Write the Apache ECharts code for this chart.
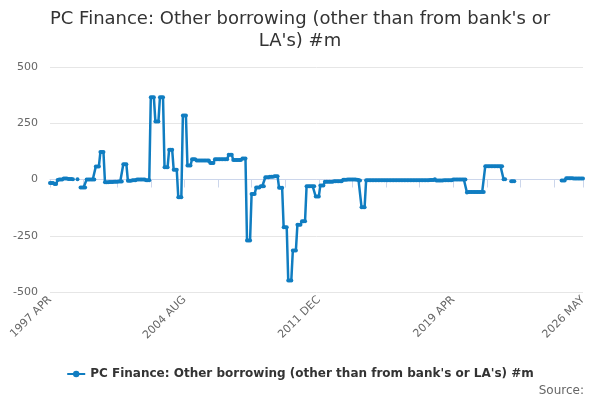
<!DOCTYPE html>
<html>
<head>
<meta charset="utf-8">
<script src="https://cdn.jsdelivr.net/npm/echarts@6/dist/echarts.min.js"></script>
<style>html,body{margin:0;padding:0;background:#fff;}#c{width:600px;height:400px;}</style>
</head>
<body>
<div id="c"></div>
<script>
var titleText = "PC Finance: Other borrowing (other than from bank's or\nLA's) #m";
var seriesName = "PC Finance: Other borrowing (other than from bank's or LA's) #m";
var sourceText = "Source:";
var monthNames = ['JAN','FEB','MAR','APR','MAY','JUN','JUL','AUG','SEP','OCT','NOV','DEC'];
var startYear = 1997, startMonth = 3, monthCount = 350;
var categories = [];
for (var i = 0; i < monthCount; i++) {
  var m = startMonth + i;
  categories.push((startYear + Math.floor(m / 12)) + ' ' + monthNames[m % 12]);
}
var yTicks = [-500, -250, 0, 250, 500];
var values = [
  -15,-15,-15,-20,-20,-2,0,0,0,4,4,4,
  2,2,2,1,null,null,1,null,-35,-35,-35,-35,
  0,0,0,0,0,0,58,58,58,122,122,122,
  -12,-12,-12,-11,-11,-11,-10,-10,-10,-9,-9,-9,
  68,68,68,-5,-5,-5,-3,-3,-3,0,0,0,
  0,0,0,-3,-3,-3,366,366,366,258,258,258,
  366,366,366,55,55,55,132,132,132,43,43,43,
  -79,-79,-79,284,284,284,62,62,62,90,90,90,
  84,84,84,84,84,84,84,84,84,73,73,73,
  90,90,90,90,90,90,90,90,90,110,110,110,
  87,87,87,87,87,87,93,93,93,-271,-271,-271,
  -64,-64,-64,-36,-36,-36,-30,-30,-30,10,10,10,
  12,12,12,15,15,15,-37,-37,-37,-212,-212,-212,
  -449,-449,-449,-316,-316,-316,-201,-201,-201,-185,-185,-185,
  -30,-30,-30,-30,-30,-30,-76,-76,-76,-27,-27,-27,
  -10,-10,-10,-10,-10,-10,-8,-8,-8,-8,-8,-8,
  -1,-1,-1,0,0,0,0,0,0,-1,-2,-4,
  -123,-123,-123,-3,-3,-3,-3,-3,-3,-3,-3,-3,
  -3,-3,-3,-3,-3,-3,-3,-3,-3,-3,-3,-3,
  -3,-3,-3,-3,-3,-3,-3,-3,-3,-3,-3,-3,
  -3,-3,-3,-3,-3,-3,-3,-3,-3,-2,-2,-2,
  1,-4,-4,-4,-4,-4,-3,-3,-3,-3,-3,-3,
  0,0,0,0,0,0,0,0,0,-58,-56,-56,
  -56,-56,-56,-56,-56,-56,-55,-55,-55,59,59,59,
  59,59,59,59,59,59,59,59,59,1,1,null,
  null,null,-8,-8,-8,null,null,null,null,null,null,null,
  null,null,null,null,null,null,null,null,null,null,null,null,
  null,null,null,null,null,null,null,null,null,null,null,-4,
  -4,-4,6,6,6,6,6,5,5,5,5,5,
  5,5
];
var lastIdx = categories.length - 1;
var chart = echarts.init(document.getElementById('c'), null, {renderer: 'canvas'});
chart.setOption({
  animation: false,
  backgroundColor: '#ffffff',
  title: [{
    text: titleText,
    left: 'center',
    top: 3,
    textStyle: {fontFamily: 'DejaVu Sans', fontSize: 18, fontWeight: 'normal', color: '#333333', lineHeight: 22}
  }, {
    text: sourceText,
    right: 11,
    bottom: -2,
    textStyle: {fontFamily: 'DejaVu Sans', fontSize: 12, fontWeight: 'normal', color: '#666666'}
  }],
  legend: {
    top: 363,
    left: 'center',
    itemWidth: 18,
    itemHeight: 8,
    textStyle: {fontFamily: 'DejaVu Sans', fontSize: 12, fontWeight: 'bold', color: '#333333'},
    data: [seriesName]
  },
  grid: {left: 50, right: 17, top: 67, bottom: 108},
  xAxis: {
    type: 'category',
    data: categories,
    boundaryGap: false,
    axisLine: {lineStyle: {color: '#ccd6eb'}},
    axisTick: {
      length: 8,
      lineStyle: {color: '#ccd6eb'},
      interval: function (i) { return i % 22 === 0 || i === lastIdx; }
    },
    axisLabel: {
      rotate: 45,
      margin: 6,
      fontFamily: 'DejaVu Sans',
      fontSize: 11,
      color: '#666666',
      interval: function (i) { return i % 88 === 0 || i === lastIdx; }
    },
    splitLine: {show: false}
  },
  yAxis: {
    type: 'value',
    min: yTicks[0],
    max: yTicks[yTicks.length - 1],
    interval: 250,
    axisLine: {show: false},
    axisTick: {show: false},
    axisLabel: {fontFamily: 'DejaVu Sans', fontSize: 11, color: '#666666', margin: 12},
    splitLine: {lineStyle: {color: '#e6e6e6'}}
  },
  series: [{
    name: seriesName,
    type: 'line',
    data: values,
    connectNulls: false,
    showSymbol: true,
    showAllSymbol: true,
    symbol: 'circle',
    symbolSize: 4,
    lineStyle: {width: 2.5, color: '#107dc1'},
    itemStyle: {color: '#107dc1'}
  }]
});
</script>
</body>
</html>
